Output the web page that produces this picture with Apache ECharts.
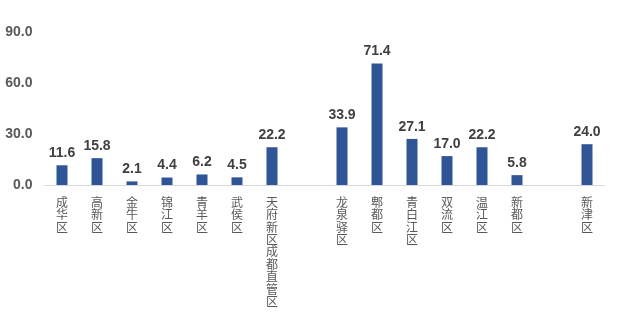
<!DOCTYPE html>
<html><head><meta charset="utf-8">
<script src="https://cdn.jsdelivr.net/npm/echarts@6/dist/echarts.min.js"></script>
<style>html,body{margin:0;padding:0;background:#fff}#c{width:641px;height:321px}</style>
</head><body><div id="c"></div>
<script>
const categories = ['成华区','高新区','金牛区','锦江区','青羊区','武侯区','天府新区成都直管区','','龙泉驿区','郫都区','青白江区','双流区','温江区','新都区','','新津区'];
const values = [11.6,15.8,2.1,4.4,6.2,4.5,22.2,null,33.9,71.4,27.1,17.0,22.2,5.8,null,24.0];
const yTicks = [0,30,60,90];

const chart = echarts.init(document.getElementById('c'));
chart.setOption({
  animation:false,
  grid:{left:44.5,right:36.5,top:32,bottom:136,containLabel:false},
  xAxis:{
    type:'category',data:categories,
    axisLine:{show:true,lineStyle:{color:'#d9d9d9',width:1}},
    axisTick:{show:false},
    axisLabel:{interval:0,margin:11,color:'#595959',fontSize:12,lineHeight:12.4,
      fontFamily:'Noto Sans CJK SC',
      formatter:v=>v.split('').join('\n')}
  },
  yAxis:{
    type:'value',min:yTicks[0],max:yTicks[yTicks.length-1],interval:30,
    splitLine:{show:false},axisLine:{show:false},axisTick:{show:false},
    axisLabel:{margin:12,color:'#595959',fontSize:14,fontWeight:'bold',fontFamily:'Liberation Sans, Arial',
      formatter:v=>v.toFixed(1)}
  },
  series:[{
    type:'bar',data:values,barWidth:11,
    itemStyle:{color:'#2F5597'},
    label:{show:true,position:'top',distance:5,color:'#404040',fontSize:14,fontWeight:'bold',
      fontFamily:'Liberation Sans, Arial',formatter:p=>p.value==null?'':p.value.toFixed(1)}
  }]
});
</script></body></html>
